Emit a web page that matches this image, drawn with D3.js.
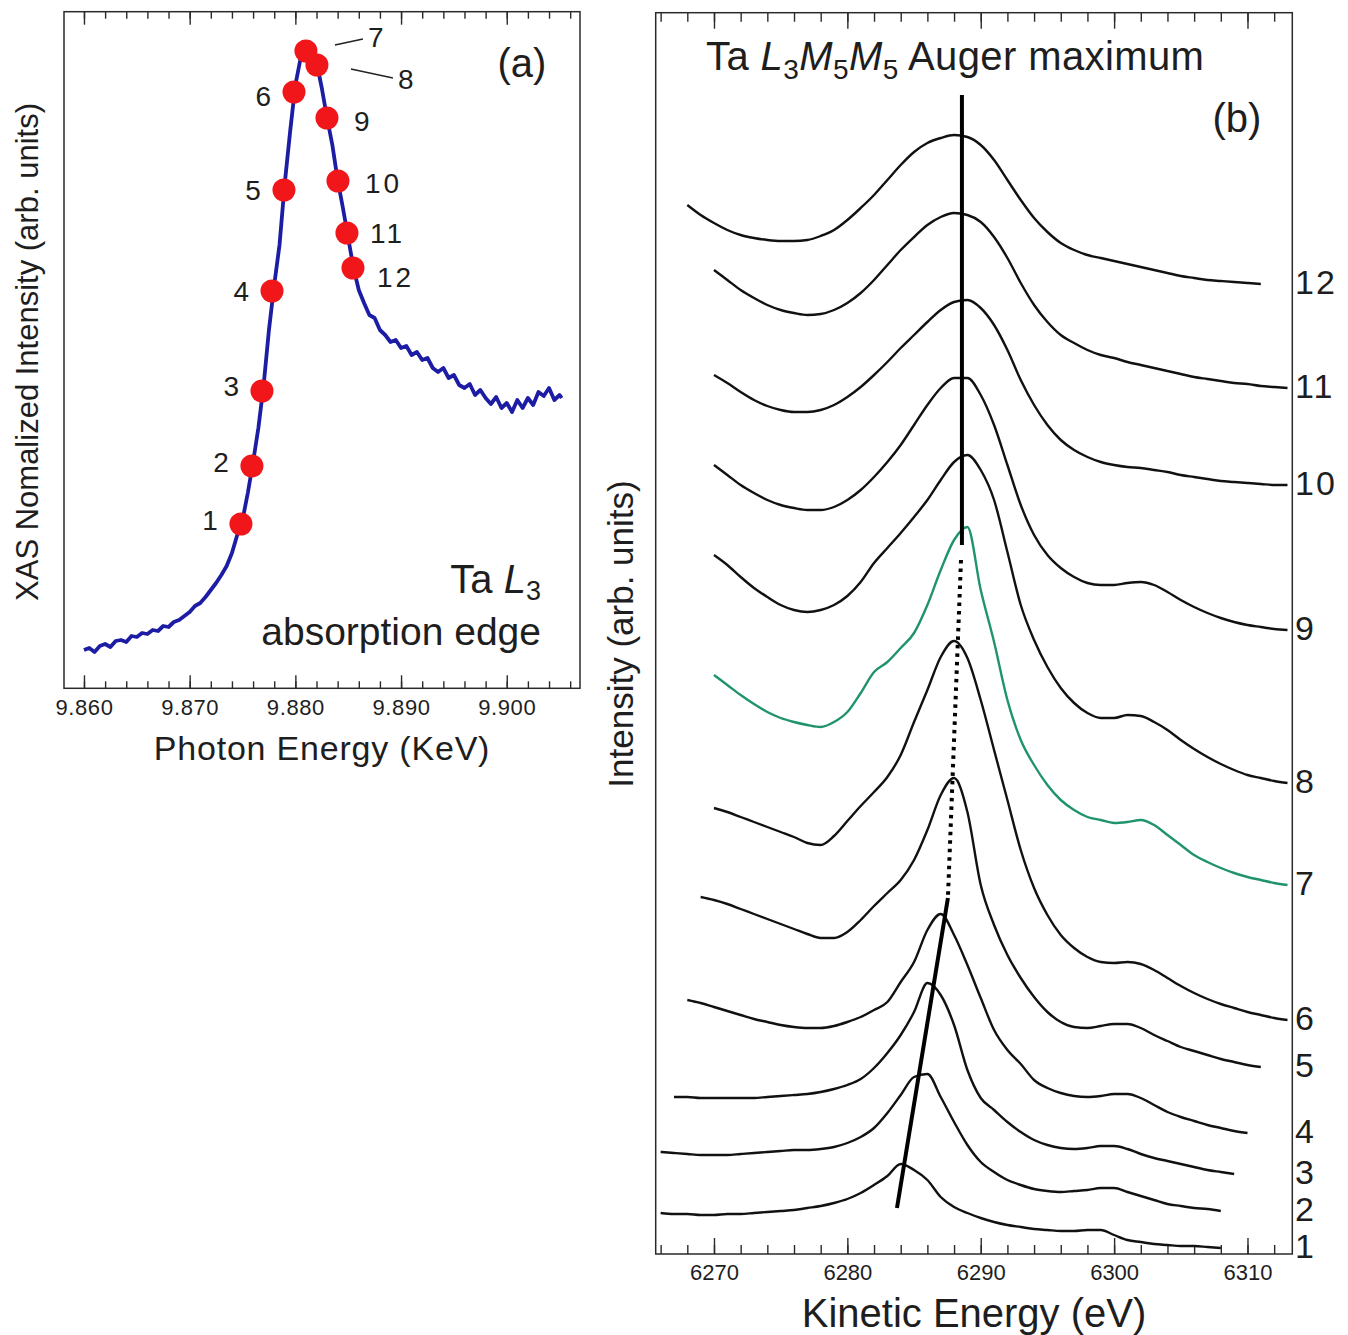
<!DOCTYPE html>
<html>
<head>
<meta charset="utf-8">
<script src="https://cdn.jsdelivr.net/npm/d3@7"></script>
<style>
  body { margin: 0; background: #fff; }
  text { font-family: "Liberation Sans", Arial, sans-serif; fill: #1e1e1e; }
</style>
</head>
<body>
<div id="chart"></div>
<script>
// ---------------- data ----------------
// (a) XAS spectrum, photon energy in keV, intensity in arb. units
var xasEnergy = [9.8600, 9.8605, 9.8610, 9.8615, 9.8620, 9.8625, 9.8630, 9.8635, 9.8640, 9.8645,
  9.8650, 9.8655, 9.8660, 9.8665, 9.8670, 9.8675, 9.8680, 9.8685, 9.8690, 9.8695,
  9.8700, 9.8705, 9.8710, 9.8715, 9.8720, 9.8725, 9.8730, 9.8735, 9.8740, 9.8745,
  9.8750, 9.8755, 9.8760, 9.8765, 9.8770, 9.8775, 9.8780, 9.8785, 9.8790, 9.8795,
  9.8800, 9.8805, 9.8810, 9.8815, 9.8820, 9.8825, 9.8830, 9.8835, 9.8840, 9.8845,
  9.8850, 9.8855, 9.8860, 9.8865, 9.8870, 9.8875, 9.8880, 9.8885, 9.8890, 9.8895,
  9.8900, 9.8905, 9.8910, 9.8915, 9.8920, 9.8925, 9.8930, 9.8935, 9.8940, 9.8945,
  9.8950, 9.8955, 9.8960, 9.8965, 9.8970, 9.8975, 9.8980, 9.8985, 9.8990, 9.8995,
  9.9000, 9.9005, 9.9010, 9.9015, 9.9020, 9.9025, 9.9030, 9.9035, 9.9040, 9.9045,
  9.9050, 9.9052];
var xasIntensity = [38, 40, 36, 42, 44, 41, 47, 48, 46, 52,
  51, 55, 54, 58, 57, 62, 61, 66, 68, 72,
  76, 82, 85, 91, 98, 105, 113, 122, 135, 153,
  168, 195, 226, 260, 303, 358, 403, 443, 505, 556,
  603, 630, 640, 636, 626, 600, 570, 543, 508, 480,
  450, 420, 398, 385, 373, 370, 358, 353, 346, 348,
  340, 342, 333, 336, 328, 330, 320, 316, 320, 310,
  313, 303, 300, 304, 293, 298, 290, 284, 291, 280,
  285, 276, 288, 280, 290, 283, 296, 292, 300, 288,
  293, 290];

// photon energies where the Auger spectra were taken
var pointLabels = ["1", "2", "3", "4", "5", "6", "7", "8", "9", "10", "11", "12"];
var pointEnergy = [9.87485, 9.87589, 9.87684, 9.87779, 9.87892, 9.87987,
  9.88100, 9.88204, 9.88299, 9.88403, 9.88488, 9.88545];
var pointIntensity = [164, 222, 297, 397, 498, 596, 637, 623, 570, 507, 455, 420];

// (b) Auger spectra, kinetic energy in eV (1 eV steps), offset intensities in arb. units
var kineticEnergy = [6266, 6267, 6268, 6269, 6270, 6271, 6272, 6273, 6274, 6275,
  6276, 6277, 6278, 6279, 6280, 6281, 6282, 6283, 6284, 6285,
  6286, 6287, 6288, 6289, 6290, 6291, 6292, 6293, 6294, 6295,
  6296, 6297, 6298, 6299, 6300, 6301, 6302, 6303, 6304, 6305,
  6306, 6307, 6308, 6309, 6310, 6311, 6312, 6313];
var spectrumStart = [6266, 6266, 6267, 6268, 6269, 6270, 6270, 6270, 6270, 6270, 6270, 6268];

var spectrum1 = [41, 40, 40, 39, 39, 40, 40, 41, 42, 43, 44, 46, 48, 51, 55, 61, 69, 78, 90, 84,
  74, 57, 47, 41, 36, 32, 29, 27, 25, 24, 23, 23, 24, 24, 19, 14, 12, 10, 9, 8, 8, 7, 6];
var spectrum2 = [102, 101, 100, 99, 99, 99, 100, 101, 102, 103, 104, 104, 105, 107, 111,
  117, 126, 141, 159, 177, 180, 157, 132, 109, 92, 82, 74, 69, 65, 63,
  62, 63, 64, 66, 66, 62, 58, 54, 50, 48, 46, 45, 43];
var spectrum3 = [157, 157, 156, 156, 156, 156, 156, 157, 158, 159, 160, 162, 165, 169, 175,
  186, 201, 219, 242, 271, 259, 229, 184, 156, 144, 132, 122, 114, 109, 106,
  105, 106, 108, 108, 105, 100, 96, 93, 90, 87, 84, 82, 80];
var spectrum4 = [254, 251, 247, 243, 239, 235, 232, 229, 227, 226, 226, 228, 232, 237, 244,
  252, 272, 292, 324, 340, 319, 289, 256, 224, 204, 190, 174, 166, 161, 158,
  157, 158, 160, 160, 156, 149, 142, 137, 133, 129, 126, 123, 121];
var spectrum5 = [357, 354, 350, 345, 340, 335, 330, 325, 320, 316, 316, 322, 334, 348, 361,
  374, 394, 424, 459, 476, 442, 369, 329, 299, 276, 257, 242, 232, 227, 226,
  228, 230, 230, 226, 219, 213, 207, 203, 199, 195, 192, 189, 187];
var spectrum6 = [446, 442, 437, 432, 427, 422, 417, 411, 409, 418, 433, 448, 462, 477, 499,
  532, 564, 597, 613, 596, 554, 504, 454, 404, 366, 339, 319, 306, 297, 292,
  291, 292, 290, 284, 276, 268, 261, 255, 250, 246, 242, 239, 236, 234];
var spectrum7 = [579, 569, 559, 550, 542, 536, 532, 529, 527, 532, 542, 561, 582, 592, 606,
  621, 649, 684, 714, 727, 664, 612, 554, 514, 489, 469, 454, 444, 437, 434,
  431, 432, 434, 429, 419, 409, 399, 392, 386, 381, 377, 374, 371, 369];
var spectrum8 = [699, 689, 677, 666, 657, 649, 644, 642, 644, 649, 658, 672, 691, 706, 721,
  737, 754, 774, 792, 799, 784, 754, 702, 649, 614, 587, 566, 551, 541, 536,
  536, 539, 538, 532, 524, 514, 505, 497, 490, 484, 479, 476, 473, 471];
var spectrum9 = [789, 779, 769, 761, 754, 749, 746, 744, 744, 747, 754, 764, 777, 792, 809,
  829, 849, 866, 876, 876, 859, 829, 789, 749, 719, 699, 686, 677, 671, 669,
  669, 671, 672, 669, 662, 654, 647, 641, 636, 632, 629, 627, 625, 624];
var spectrum10 = [879, 871, 862, 854, 848, 844, 842, 842, 844, 849, 857, 867, 879, 892, 906,
  919, 932, 944, 952, 954, 946, 929, 904, 874, 849, 829, 814, 804, 797, 792,
  789, 787, 786, 784, 782, 779, 777, 775, 773, 772, 771, 770, 769, 769];
var spectrum11 = [984, 974, 964, 956, 949, 944, 941, 939, 940, 944, 951, 961, 974, 989, 1004,
  1017, 1029, 1037, 1041, 1039, 1032, 1017, 996, 971, 949, 932, 919, 911, 904, 899,
  896, 892, 889, 886, 883, 880, 877, 875, 873, 871, 870, 868, 867, 866];
var spectrum12 = [1049, 1039, 1031, 1024, 1019, 1016, 1014, 1013, 1013, 1014, 1018, 1024, 1034, 1046, 1059,
  1074, 1089, 1102, 1111, 1116, 1119, 1117, 1109, 1094, 1074, 1054, 1036, 1022, 1011, 1004,
  999, 996, 993, 990, 987, 984, 981, 978, 976, 974, 973, 972, 971, 970];
var spectra = [spectrum1, spectrum2, spectrum3, spectrum4, spectrum5, spectrum6,
  spectrum7, spectrum8, spectrum9, spectrum10, spectrum11, spectrum12];
var spectrumLabels = ["1", "2", "3", "4", "5", "6", "7", "8", "9", "10", "11", "12"];

// guide lines through the Auger maxima
var guideSolidE = [6288.59, 6288.59], guideSolidI = [1159, 709];
var guideDotE = [6288.52, 6287.54], guideDotI = [694, 356];
var guideFitE = [6287.54, 6283.72], guideFitI = [356, 46];

// tick labels
var ticksA = [9.86, 9.87, 9.88, 9.89, 9.90];
var ticksB = [6270, 6280, 6290, 6300, 6310];

// ---------------- drawing ----------------
var W = 1348, H = 1335;
var svg = d3.select("#chart").append("svg").attr("width", W).attr("height", H);
var frameColor = "#2a2a2a";

// scales
var xA = d3.scaleLinear().domain([9.85811, 9.90693]).range([64, 580]);
var yA = d3.scaleLinear().domain([0, 676]).range([688, 12]);
var xB = d3.scaleLinear().domain([6265.63, 6313.36]).range([655.7, 1292.3]);
var yB = d3.scaleLinear().domain([0, 1241]).range([1254, 13]);

function tickAxes(scale, top, bottom, majors, minors, majorLen, minorLen, fmt, pad, fontSize, spacing) {
  var gb = svg.append("g").attr("transform", "translate(0," + bottom + ")");
  gb.call(d3.axisBottom(scale).tickValues(minors).tickSize(-minorLen).tickSizeOuter(0).tickFormat(""));
  var gbm = svg.append("g").attr("transform", "translate(0," + bottom + ")");
  gbm.call(d3.axisBottom(scale).tickValues(majors).tickSize(-majorLen).tickSizeOuter(0)
    .tickPadding(pad).tickFormat(fmt));
  var gt = svg.append("g").attr("transform", "translate(0," + top + ")");
  gt.call(d3.axisTop(scale).tickValues(minors).tickSize(-minorLen).tickSizeOuter(0).tickFormat(""));
  var gtm = svg.append("g").attr("transform", "translate(0," + top + ")");
  gtm.call(d3.axisTop(scale).tickValues(majors).tickSize(-majorLen).tickSizeOuter(0).tickFormat(""));
  [gb, gbm, gt, gtm].forEach(function (g) {
    g.select(".domain").remove();
    g.selectAll(".tick line").attr("stroke", frameColor).attr("stroke-width", 1.4);
  });
  gbm.selectAll(".tick text").attr("font-size", fontSize).attr("fill", "#333")
    .attr("font-family", "'Liberation Sans', Arial, sans-serif")
    .style("letter-spacing", spacing + "px");
}

// ---------- panel (a) ----------
tickAxes(xA, 11.7, 688.3, ticksA, d3.range(9.860, 9.9065, 0.002), 13, 7,
  d3.format(".3f"), 11, 22, 0.6);
svg.append("rect").attr("x", 64).attr("y", 11.7).attr("width", 516).attr("height", 676.6)
  .attr("fill", "none").attr("stroke", frameColor).attr("stroke-width", 1.5);

var xasLine = d3.line().x(function (d, i) { return xA(xasEnergy[i]); })
  .y(function (d) { return yA(d); });
svg.append("path").datum(xasIntensity).attr("d", xasLine)
  .attr("fill", "none").attr("stroke", "#1c1ca4").attr("stroke-width", 3.8)
  .attr("stroke-linejoin", "round");

svg.append("g").selectAll("circle").data(pointIntensity).join("circle")
  .attr("cx", function (d, i) { return xA(pointEnergy[i]); })
  .attr("cy", function (d) { return yA(d); })
  .attr("r", 11.5).attr("fill", "#f0161a");

// point labels: left of rising edge, right of falling edge, leaders for 7 and 8
var labelG = svg.append("g").attr("font-size", 28).style("letter-spacing", "3px");
pointLabels.forEach(function (lab, i) {
  var px = xA(pointEnergy[i]), py = yA(pointIntensity[i]);
  var t = labelG.append("text").text(lab).attr("dy", "0.36em");
  if (i < 6) {
    var dyl = [-4, -4, -5, 0, 0, 4][i];
    t.attr("x", px - 20).attr("y", py + dyl).attr("text-anchor", "end");
  } else if (i === 6) {
    t.attr("x", px + 62).attr("y", py - 14);
    svg.append("line").attr("x1", px + 29).attr("y1", py - 6).attr("x2", px + 57).attr("y2", py - 12)
      .attr("stroke", "#222").attr("stroke-width", 1.3);
  } else if (i === 7) {
    t.attr("x", px + 81).attr("y", py + 14);
    svg.append("line").attr("x1", px + 34).attr("y1", py + 4).attr("x2", px + 76).attr("y2", py + 13)
      .attr("stroke", "#222").attr("stroke-width", 1.3);
  } else {
    var off = [0, 0, 0, 0, 0, 0, 0, 0, 27, 27, 23, 24][i];
    var dyo = [0, 0, 0, 0, 0, 0, 0, 0, 3, 2, 0, 9][i];
    t.attr("x", px + off).attr("y", py + dyo);
  }
});

svg.append("text").attr("x", 522).attr("y", 77).attr("text-anchor", "middle")
  .attr("font-size", 40).text("(a)");
var taL = svg.append("text").attr("x", 541).attr("y", 593).attr("text-anchor", "end").attr("font-size", 40);
taL.append("tspan").text("Ta ");
taL.append("tspan").attr("font-style", "italic").text("L");
taL.append("tspan").attr("font-size", 27).attr("dy", 7).text("3");
svg.append("text").attr("x", 541).attr("y", 645).attr("text-anchor", "end")
  .attr("font-size", 39).text("absorption edge");

svg.append("text").attr("x", 322).attr("y", 760).attr("text-anchor", "middle")
  .attr("font-size", 34).style("letter-spacing", "0.8px").text("Photon Energy (KeV)");
svg.append("text").attr("transform", "translate(38,352) rotate(-90)").attr("text-anchor", "middle")
  .attr("font-size", 31).text("XAS Nomalized Intensity (arb. units)");

// ---------- panel (b) ----------
tickAxes(xB, 12.7, 1254, ticksB, d3.range(6266, 6313, 2), 16, 9,
  d3.format("d"), 10, 22, 0);
svg.append("rect").attr("x", 655.7).attr("y", 12.7).attr("width", 636.6).attr("height", 1241.3)
  .attr("fill", "none").attr("stroke", frameColor).attr("stroke-width", 1.5);

var base = kineticEnergy.indexOf(6266);
var specLine = d3.line().curve(d3.curveMonotoneX)
  .x(function (d) { return xB(d[0]); })
  .y(function (d) { return yB(d[1]); });
var guideLine = d3.line()
  .x(function (d) { return xB(d[0]); })
  .y(function (d) { return yB(d[1]); });
spectra.forEach(function (vals, k) {
  var off = kineticEnergy.indexOf(spectrumStart[k]) - base;
  var pts = vals.map(function (v, i) { return [kineticEnergy[off + i], v]; });
  svg.append("path").datum(pts).attr("d", specLine)
    .attr("fill", "none").attr("stroke", k === 6 ? "#1f946a" : "#111")
    .attr("stroke-width", 2.4).attr("stroke-linejoin", "round");
  svg.append("text").attr("x", 1295).attr("y", yB(vals[vals.length - 1]) - 2)
    .attr("dy", "0.36em").attr("font-size", 34).style("letter-spacing", "2px")
    .text(spectrumLabels[k]);
});

function guide(E, I, dash) {
  var p = svg.append("path").datum(E.map(function (e, i) { return [e, I[i]]; }))
    .attr("d", guideLine).attr("fill", "none").attr("stroke", "#000").attr("stroke-width", 4);
  if (dash) p.attr("stroke-dasharray", dash);
}
guide(guideSolidE, guideSolidI, null);
guide(guideDotE, guideDotI, "3.5,5");
guide(guideFitE, guideFitI, null);

var title = svg.append("text").attr("x", 706).attr("y", 70).attr("font-size", 40)
  .style("letter-spacing", "0.4px");
title.append("tspan").text("Ta ");
title.append("tspan").attr("font-style", "italic").text("L");
title.append("tspan").attr("font-size", 28).attr("dy", 9).text("3");
title.append("tspan").attr("font-style", "italic").attr("dy", -9).text("M");
title.append("tspan").attr("font-size", 28).attr("dy", 9).text("5");
title.append("tspan").attr("font-style", "italic").attr("dy", -9).text("M");
title.append("tspan").attr("font-size", 28).attr("dy", 9).text("5");
title.append("tspan").attr("dy", -9).text(" Auger maximum");

svg.append("text").attr("x", 1237).attr("y", 132).attr("text-anchor", "middle")
  .attr("font-size", 40).text("(b)");
svg.append("text").attr("x", 974).attr("y", 1327).attr("text-anchor", "middle")
  .attr("font-size", 40).text("Kinetic Energy (eV)");
svg.append("text").attr("transform", "translate(633,634) rotate(-90)").attr("text-anchor", "middle")
  .attr("font-size", 35).text("Intensity (arb. units)");
</script>
</body>
</html>
